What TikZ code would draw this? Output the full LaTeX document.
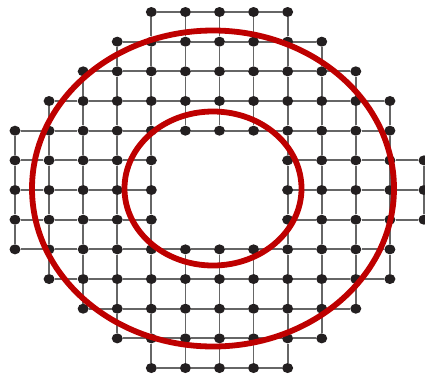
\documentclass[tikz,border=0pt]{standalone}
\usetikzlibrary{calc, shapes.geometric}

\definecolor{dotblack}{HTML}{231F20}
\definecolor{edgegray}{HTML}{666666}
\definecolor{ringred}{HTML}{BE0000}

\begin{document}
\begin{tikzpicture}[
		x=1pt, y=-1pt,
		dot/.style={ellipse, fill=dotblack, inner sep=0pt, minimum width=11pt, minimum height=10pt},
		edge/.style={draw=edgegray, line width=1.8pt},
		ring/.style={draw=ringred, line width=5.8pt}
		]
		
		\useasboundingbox (0,0) rectangle (425,373);
		
		% ==========================================
		% 1. LATTICE SITES (row/first col/last col)
		% ==========================================
		\foreach \r/\ca/\cb in {0/4/8, 1/3/9, 2/2/10, 3/1/11, 4/0/11, 5/0/4, 5/8/12, 6/0/4, 6/8/12, 7/0/4, 7/8/12, 8/0/11, 9/1/11, 10/2/10, 11/3/9, 12/4/8} {
			\foreach \c in {\ca,...,\cb} {
				\node[dot] (n-\r-\c) at (15+34.08*\c, 12+29.67*\r) {};
			}
		}
		
		% ==========================================
		% 2. BONDS
		% ==========================================
		% horizontal bonds
		\foreach \r/\ca/\cb in {0/4/8, 1/3/9, 2/2/10, 3/1/11, 4/0/11, 5/0/4, 5/8/12, 6/0/4, 6/8/12, 7/0/4, 7/8/12, 8/0/11, 9/1/11, 10/2/10, 11/3/9, 12/4/8} {
			\pgfmathtruncatemacro{\cc}{\cb-1}
			\foreach \c in {\ca,...,\cc} {
				\pgfmathtruncatemacro{\cn}{\c+1}
				\draw[edge] (n-\r-\c) -- (n-\r-\cn);
			}
		}
		% vertical bonds
		\foreach \c/\ra/\rb in {0/4/8, 1/3/9, 2/2/10, 3/1/11, 4/0/12, 5/0/4, 5/8/12, 6/0/4, 6/8/12, 7/0/4, 7/8/12, 8/0/12, 9/1/11, 10/2/10, 11/3/9, 12/5/7} {
			\pgfmathtruncatemacro{\rr}{\rb-1}
			\foreach \r in {\ra,...,\rr} {
				\pgfmathtruncatemacro{\rn}{\r+1}
				\draw[edge] (n-\r-\c) -- (n-\rn-\c);
			}
		}
		
		% ==========================================
		% 3. RINGS
		% ==========================================
		\coordinate (centre) at (213,188.5);
		\draw[ring] (centre) ellipse [x radius=181, y radius=158];
		\draw[ring] (centre) ellipse [x radius=88.5, y radius=77];
		
	\end{tikzpicture}
\end{document}
